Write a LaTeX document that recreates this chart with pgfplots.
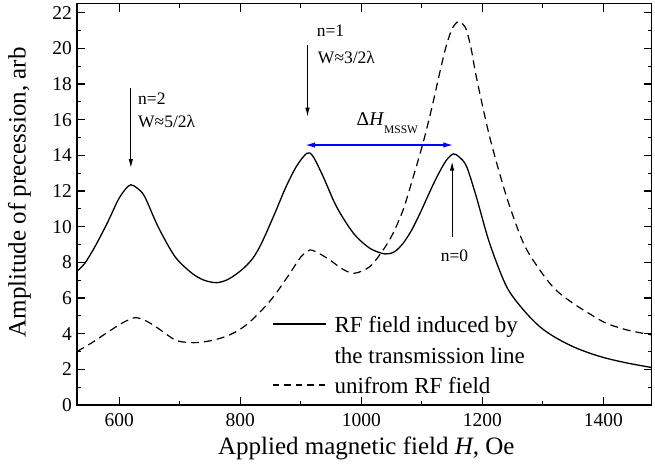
\documentclass[border=0pt]{standalone}
\usepackage{fontspec}
\setmainfont{Liberation Serif}
\usepackage{pgfplots}
\pgfplotsset{compat=1.18}
\usetikzlibrary{arrows.meta}
\begin{document}
\begin{tikzpicture}
\useasboundingbox (-77pt,-60pt) rectangle (578pt,405pt);
\begin{axis}[
  at={(0pt,0pt)}, anchor=south west,
  scale only axis, width=574.75pt, height=401.2pt,
  xmin=530, xmax=1480, ymin=0, ymax=22.5,
  xtick={600,800,1000,1200,1400},
  ytick={0,2,...,22},
  minor x tick num=1, minor y tick num=1,
  tick align=inside,
  major tick length=8pt, minor tick length=4pt,
  axis line style={line width=1.3pt},
  every tick/.style={black, line width=1.1pt},
  /pgf/number format/assume math mode=true,
  /pgf/number format/1000 sep={},
  tick label style={font=\fontsize{19.5}{19.5}\selectfont},
  xticklabel style={yshift=-4.5pt},
  yticklabel style={xshift=-1.5pt},
  xlabel={Applied magnetic field \textit{H}, Oe},
  ylabel={Amplitude of precession, arb},
  label style={font=\fontsize{25}{25}\selectfont},
  xlabel style={at={(axis description cs:0.5035,0)}, anchor=base, yshift=-50pt, inner sep=0pt},
  ylabel style={at={(axis description cs:-0.1202,0.53)}, anchor=north, inner sep=0pt},
  legend image code/.code={\draw[#1] (0pt,9pt) -- (53pt,9pt);},
  legend style={draw=none, fill=none, at={(rel axis cs:0.3393,0.225)}, anchor=north west,
    font=\fontsize{23}{29.5}\selectfont, inner sep=0pt,
    cells={anchor=base west, inner sep=0pt, text height=16pt, text depth=5pt},
    column sep=6pt, row sep=9pt},
]
\addplot[black, line width=1.3pt, smooth, forget plot] coordinates {
(530,7.5) (543,7.95) (560,8.9) (580,10.2) (598,11.5) (610,12.1) (619,12.35) (630,12.15)
(642,11.68) (664,10.0) (692,8.32) (720,7.39) (740,7.0) (761,6.86) (780,7.05) (802,7.57)
(820,8.2) (835,9.07) (857,10.75) (875,12.2) (893,13.4) (910,14.12) (920,13.95) (937,12.8)
(959,11.12) (987,9.63) (1014,8.79) (1039,8.47) (1055,8.6) (1069,9.07) (1083,9.8) (1097,10.75)
(1111,11.8) (1125,12.8) (1140,13.7) (1152,14.08) (1162,13.9) (1174,13.37) (1190,11.68)
(1212,9.07) (1240,6.64) (1268,5.33) (1295,4.39) (1320,3.8) (1350,3.27) (1378,2.9)
(1405,2.62) (1440,2.35) (1480,2.1)
};
\addplot[black, line width=1.2pt, dash pattern=on 8pt off 5pt, smooth, forget plot] coordinates {
(530,3.0) (555,3.5) (582,4.11) (605,4.6) (626,4.9) (645,4.7) (664,4.30) (692,3.65) (710,3.52)
(728,3.5) (750,3.6) (775,3.83) (795,4.15) (813,4.58) (835,5.3) (857,6.17) (882,7.39) (900,8.3)
(915,8.69) (930,8.5) (948,8.13) (970,7.6) (989,7.39) (1014,7.76) (1036,8.69) (1052,9.6)
(1069,10.94) (1085,12.7) (1102,14.7) (1116,16.6) (1130,18.7) (1140,20.1) (1150,21.1)
(1160,21.5) (1168,21.35) (1174,21.0) (1182,19.9) (1190,18.41) (1212,15.05) (1240,11.68)
(1268,9.07) (1295,7.57) (1320,6.5) (1350,5.70) (1378,5.1) (1405,4.58) (1440,4.2) (1480,3.93)
};
\addlegendimage{black, line width=1.3pt}
\addlegendentry{RF field induced by}
\addlegendimage{empty legend}
\addlegendentry{the transmission line}
\addlegendimage{black, line width=1.2pt, dash pattern=on 6.5pt off 5pt}
\addlegendentry{unifrom RF field}
% annotations
\draw[black, line width=1pt, -{Latex[length=9pt,width=4.5pt]}] (axis cs:619,17.78) -- (axis cs:619,13.29);
\draw[black, line width=1pt, -{Latex[length=9pt,width=4.5pt]}] (axis cs:911,20.2) -- (axis cs:911,16.17);
\draw[black, line width=1pt, -{Latex[length=9pt,width=4.5pt]}] (axis cs:1150,9.44) -- (axis cs:1150,13.65);
\draw[blue, line width=1.5pt, {Latex[length=10pt,width=5.5pt]}-{Latex[length=10pt,width=5.5pt]}] (axis cs:907,14.58) -- (axis cs:1152,14.58);
\node[anchor=base west, inner sep=0pt, font=\fontsize{17.5}{20}\selectfont] at (axis cs:630.8,16.83) {n=2};
\node[anchor=base west, inner sep=0pt, font=\fontsize{17.5}{20}\selectfont] at (axis cs:630.8,15.54) {W≈5/2λ};
\node[anchor=base west, inner sep=0pt, font=\fontsize{17.5}{20}\selectfont] at (axis cs:926,20.66) {n=1};
\node[anchor=base west, inner sep=0pt, font=\fontsize{17.5}{20}\selectfont] at (axis cs:928,19.16) {W≈3/2λ};
\node[anchor=base, inner sep=0pt, font=\fontsize{17.5}{20}\selectfont] at (axis cs:1154,8.04) {n=0};
\node[anchor=base west, inner sep=0pt] at (axis cs:992,15.65) {{\fontsize{19.5}{20}\selectfont Δ\textit{H}}\raisebox{-8pt}{\fontsize{11.5}{12}\selectfont MSSW}};
\end{axis}
\end{tikzpicture}
\end{document}
